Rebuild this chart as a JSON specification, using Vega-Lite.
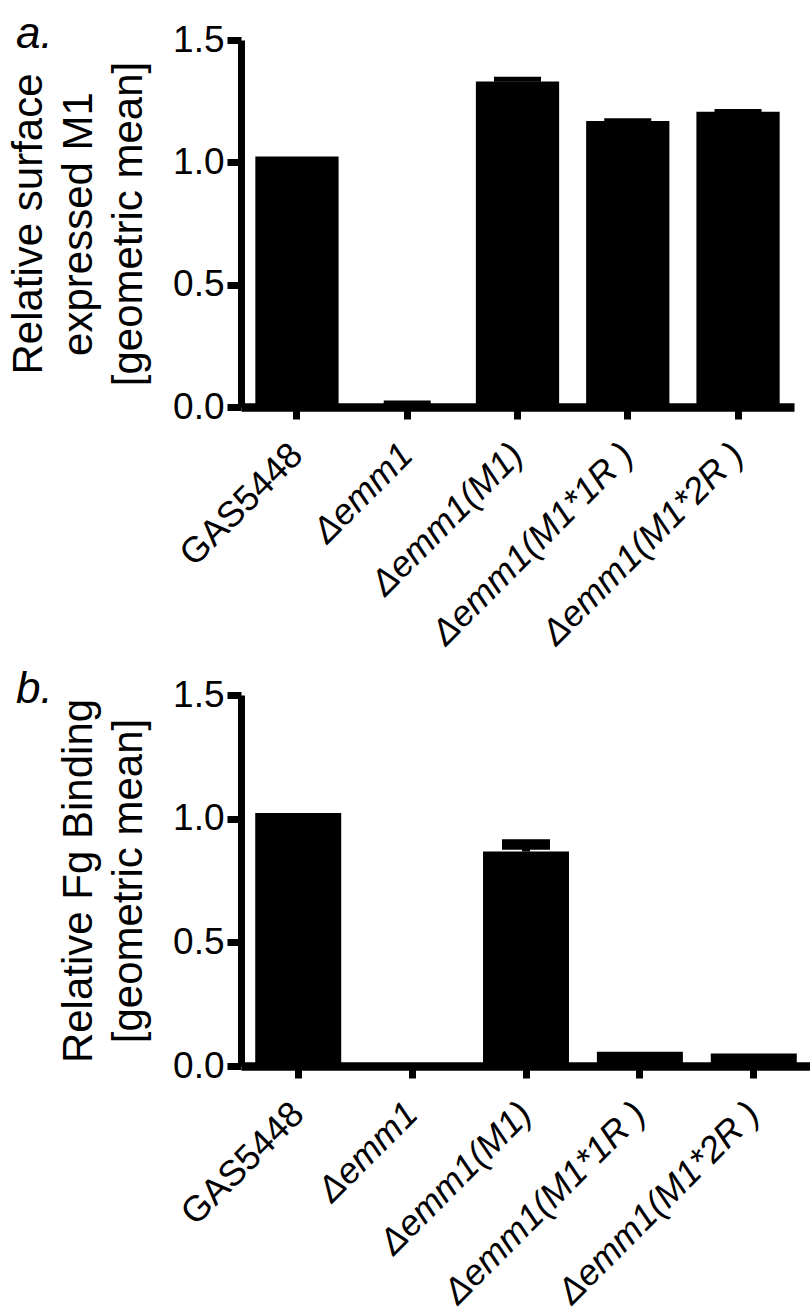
{
  "$schema": "https://vega.github.io/schema/vega-lite/v6.json",
  "background": "white",
  "padding": {"left": 7, "top": 13, "right": 0, "bottom": 0},
  "bounds": "flush",
  "spacing": 288,
  "config": {
    "view": {"stroke": null},
    "font": "Liberation Sans",
    "axisY": {
      "labelFontSize": 37,
      "titleFontSize": 42,
      "titleFontWeight": "normal",
      "titleLineHeight": 50,
      "tickSize": 14,
      "tickWidth": 7,
      "domainWidth": 7,
      "domainColor": "black",
      "tickColor": "black",
      "labelColor": "black",
      "titleColor": "black",
      "grid": false,
      "labelPadding": 3,
      "titlePadding": 22
    },
    "axisX": {
      "labelAngle": -45,
      "labelAlign": "right",
      "labelBaseline": "middle",
      "labelFontSize": 36,
      "labelLimit": 0,
      "tickSize": 12,
      "tickWidth": 7,
      "domainWidth": 8.5,
      "domainColor": "black",
      "tickColor": "black",
      "labelColor": "black",
      "grid": false,
      "labelPadding": 30,
      "title": null
    }
  },
  "vconcat": [
    {
      "width": 553,
      "height": 367,
      "title": {"text": "a.", "anchor": "start", "frame": "group", "fontStyle": "italic", "fontSize": 44, "fontWeight": "normal", "color": "black", "dx": -225, "dy": 40},
      "data": {
        "values": [
          {"strain": "GAS5448", "value": 1.024, "upper": null},
          {"strain": "Δemm1", "value": 0.002, "upper": 0.016},
          {"strain": "Δemm1(M1)", "value": 1.330, "upper": 1.340},
          {"strain": "Δemm1(M1*1R )", "value": 1.169, "upper": 1.170},
          {"strain": "Δemm1(M1*2R )", "value": 1.207, "upper": 1.208}
        ]
      },
      "encoding": {
        "x": {
          "field": "strain", "type": "nominal", "sort": null,
          "scale": {"paddingInner": 0.245, "paddingOuter": 0.13},
          "axis": {"labelFontStyle": {"condition": {"test": "indexof(datum.label, 'Δ') >= 0", "value": "italic"}, "value": "normal"}}
        }
      },
      "layer": [
        {
          "mark": {"type": "bar", "color": "black"},
          "encoding": {"y": {"field": "value", "type": "quantitative", "scale": {"domain": [0, 1.5], "nice": false}, "axis": {"values": [0, 0.5, 1, 1.5], "format": ".1f"}, "title": ["Relative surface", "expressed M1", "[geometric mean]"]}}
        },
        {
          "transform": [{"filter": "datum.upper != null"}],
          "mark": {"type": "tick", "color": "black", "opacity": 1, "thickness": 5, "size": 47},
          "encoding": {"y": {"field": "upper", "type": "quantitative", "axis": {"values": [0, 0.5, 1, 1.5], "format": ".1f"}, "title": ["Relative surface", "expressed M1", "[geometric mean]"]}}
        }
      ]
    },
    {
      "width": 570,
      "height": 371,
      "title": {"text": "b.", "anchor": "start", "frame": "group", "fontStyle": "italic", "fontSize": 44, "fontWeight": "normal", "color": "black", "dx": -225, "dy": 40},
      "data": {
        "values": [
          {"strain": "GAS5448", "value": 1.023, "upper": null},
          {"strain": "Δemm1", "value": 0.002, "upper": null},
          {"strain": "Δemm1(M1)", "value": 0.867, "upper": 0.896},
          {"strain": "Δemm1(M1*1R )", "value": 0.058, "upper": null},
          {"strain": "Δemm1(M1*2R )", "value": 0.051, "upper": null}
        ]
      },
      "encoding": {
        "x": {
          "field": "strain", "type": "nominal", "sort": null,
          "scale": {"paddingInner": 0.245, "paddingOuter": 0.125},
          "axis": {"labelFontStyle": {"condition": {"test": "indexof(datum.label, 'Δ') >= 0", "value": "italic"}, "value": "normal"}}
        }
      },
      "layer": [
        {
          "mark": {"type": "bar", "color": "black"},
          "encoding": {"y": {"field": "value", "type": "quantitative", "scale": {"domain": [0, 1.5], "nice": false}, "axis": {"values": [0, 0.5, 1, 1.5], "format": ".1f"}, "title": ["Relative Fg Binding", "[geometric mean]"]}}
        },
        {
          "transform": [{"filter": "datum.upper != null"}],
          "mark": {"type": "rule", "color": "black", "strokeWidth": 8},
          "encoding": {"y": {"field": "value", "type": "quantitative", "axis": {"values": [0, 0.5, 1, 1.5], "format": ".1f"}, "title": ["Relative Fg Binding", "[geometric mean]"]}, "y2": {"field": "upper"}}
        },
        {
          "transform": [{"filter": "datum.upper != null"}],
          "mark": {"type": "tick", "color": "black", "opacity": 1, "thickness": 10.5, "size": 48},
          "encoding": {"y": {"field": "upper", "type": "quantitative", "axis": {"values": [0, 0.5, 1, 1.5], "format": ".1f"}, "title": ["Relative Fg Binding", "[geometric mean]"]}}
        }
      ]
    }
  ]
}
